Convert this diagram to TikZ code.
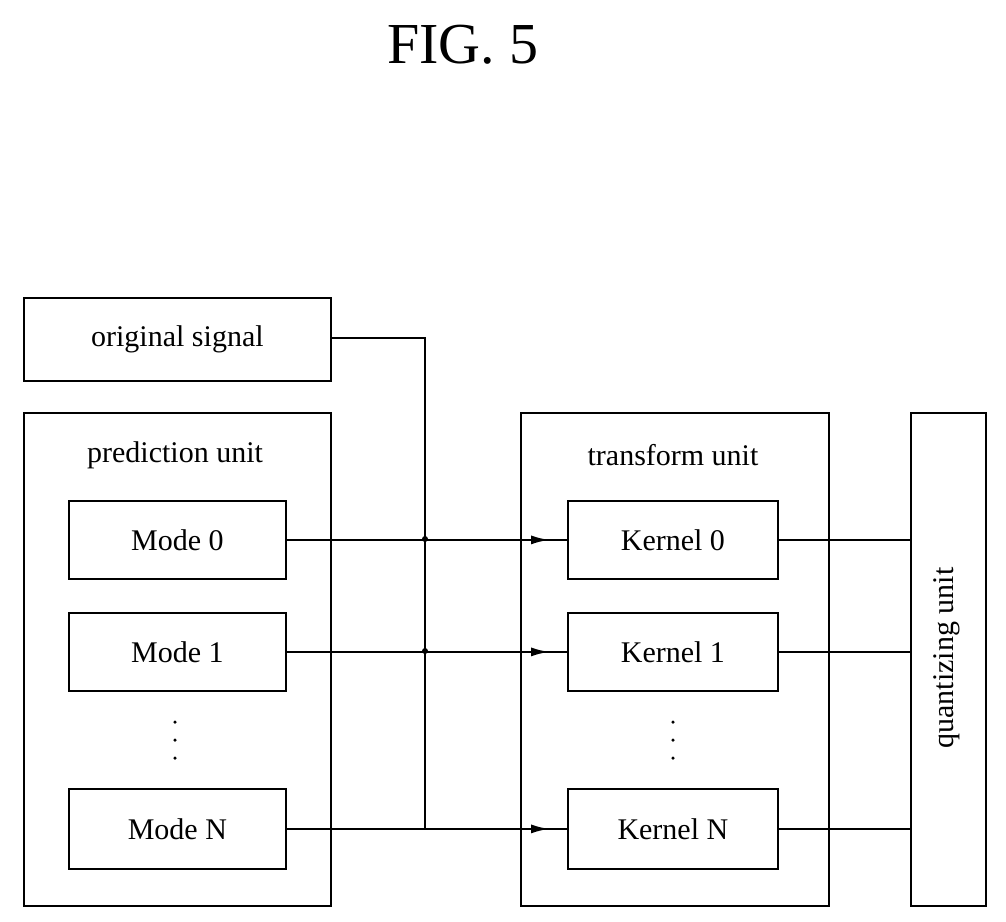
\documentclass[tikz,border=0pt]{standalone}
\usepackage{fontspec}
\setmainfont{Liberation Serif}
\usetikzlibrary{arrows.meta,decorations.markings}
\tikzstyle{fig_style}=[x=1pt,y=-1pt,line width=1.8pt,
  box/.style={rectangle,draw,line width=1.8pt,anchor=north west,inner sep=0pt,font=\fontsize{30}{34}\selectfont},
  unit/.style={rectangle,draw,line width=1.8pt,anchor=north west,inner sep=0pt},
  caption/.style={font=\fontsize{30}{34}\selectfont},
  feed/.style={postaction={decorate},decoration={markings,
    mark=at position \pgfdecoratedpathlength-18pt with {\arrow{Latex[length=18pt,width=9pt]}}}},
  tap/.style={circle,fill,inner sep=0pt,minimum size=6pt},
  dot/.style={circle,fill,inner sep=0pt,minimum size=3.5pt}]

\begin{document}
\begin{tikzpicture}[fig_style]
  \useasboundingbox (0,0) rectangle (1006,921);

  \node[font=\fontsize{58}{62}\selectfont] (title) at (463,45) {FIG.\ 5};

  \node[box,minimum width=307pt,minimum height=83pt] (orig) at (23,297) {original signal};
  \node[unit,minimum width=307pt,minimum height=493pt] (pred) at (23,412) {};
  \node[unit,minimum width=308pt,minimum height=493pt] (trans) at (520,412) {};
  \node[unit,minimum width=75pt,minimum height=493pt] (quant) at (910,412) {};

  \node[caption] (predl) at (175,455) {prediction unit};
  \node[caption] (transl) at (673,455) {transform unit};
  \node[caption,rotate=90] (quantl) at (947,658) {quantizing unit};

  \node[box,minimum width=217pt,minimum height=78pt] (m0) at (68,500) {Mode 0};
  \node[box,minimum width=217pt,minimum height=78pt] (m1) at (68,612) {Mode 1};
  \node[box,minimum width=217pt,minimum height=80pt] (mn) at (68,788) {Mode N};
  \node[box,minimum width=210pt,minimum height=78pt] (k0) at (567,500) {Kernel 0};
  \node[box,minimum width=210pt,minimum height=78pt] (k1) at (567,612) {Kernel 1};
  \node[box,minimum width=210pt,minimum height=80pt] (kn) at (567,788) {Kernel N};

  % vertical ellipses
  \foreach \y in {722,740,758} {
    \node[dot] at (175,\y) {};
    \node[dot] at (673,\y) {};
  }

  \coordinate (bend) at (425,338);
  \coordinate (join) at (425,828);
  \node[tap] (t0) at (425,539) {};
  \node[tap] (t1) at (425,651) {};

  \draw (orig.east |- bend) -- (bend) -- (join);
  \draw[feed] (m0) -- (k0);
  \draw[feed] (m1) -- (k1);
  \draw[feed] (mn) -- (kn);
  \draw (k0) -- (k0 -| quant.west);
  \draw (k1) -- (k1 -| quant.west);
  \draw (kn) -- (kn -| quant.west);

\end{tikzpicture}
\end{document}
